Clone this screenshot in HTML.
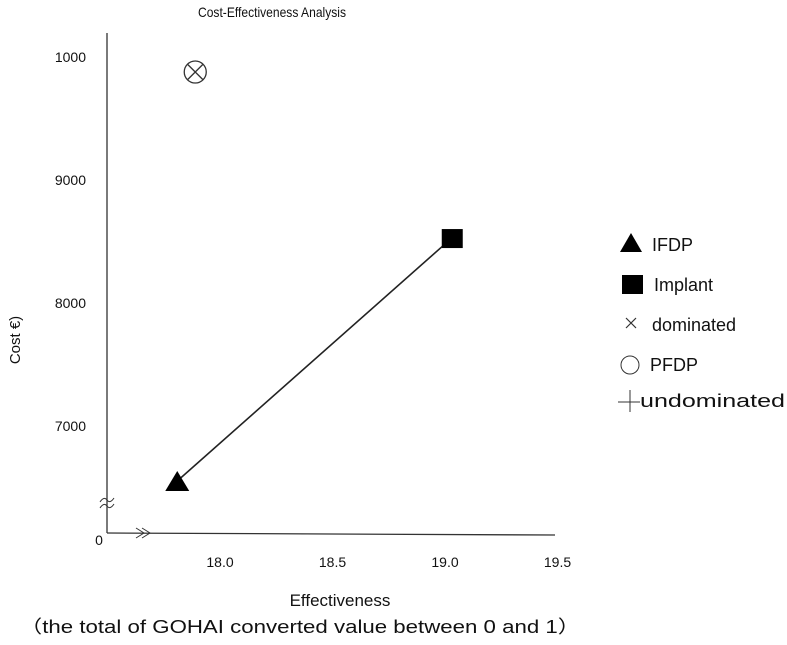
<!DOCTYPE html>
<html><head><meta charset="utf-8"><style>
body{margin:0;background:#fff;font-family:"Liberation Sans","Noto Sans CJK JP",sans-serif;}
svg text{font-family:"Liberation Sans","Noto Sans CJK JP",sans-serif;fill:#111;}
</style></head><body>
<svg width="787" height="640" viewBox="0 0 787 640">
<text x="272" y="17" font-size="14" text-anchor="middle" textLength="148" lengthAdjust="spacingAndGlyphs">Cost-Effectiveness Analysis</text>
<line x1="107" y1="33" x2="107" y2="533" stroke="#333" stroke-width="1.3"/>
<line x1="107" y1="533" x2="555" y2="535" stroke="#333" stroke-width="1.3"/>
<g id="yticks"></g>
<g id="xticks"></g>
<text x="99" y="545" font-size="14" text-anchor="middle">0</text>
<path d="M100,502 q4,-6 7,-2 q3,4 7,-2 M100,508 q4,-6 7,-2 q3,4 7,-2" stroke="#333" fill="none"/>
<path d="M136,528 l8,5 l-8,5 M142,528 l8,5 l-8,5" stroke="#333" fill="none"/>
<g id="marks"></g>
<text transform="translate(20,340) rotate(-90)" font-size="15" text-anchor="middle">Cost  €)</text>
<text x="340" y="606" font-size="17" text-anchor="middle">Effectiveness</text>
<text x="300" y="633" font-size="18" text-anchor="middle" textLength="560" lengthAdjust="spacingAndGlyphs">（the total of GOHAI converted value between 0 and 1）</text>
<g>
<polygon points="620,252 631,233 642,252" fill="#000"/>
<text x="652" y="251" font-size="18">IFDP</text>
<rect x="622" y="275" width="21" height="19" fill="#000"/>
<text x="654" y="291" font-size="18">Implant</text>
<path d="M626,318 l10,10 M636,318 l-10,10" stroke="#333" stroke-width="1.2"/>
<text x="652" y="331" font-size="18">dominated</text>
<circle cx="630" cy="365" r="9" fill="none" stroke="#333"/>
<text x="650" y="371" font-size="18">PFDP</text>
<path d="M618,402 h22 M630,390 v22" stroke="#333"/>
<text x="640" y="407" font-size="18" textLength="145" lengthAdjust="spacingAndGlyphs">undominated</text>
</g>
</svg>
<script>
const yTickValues=[10000,9000,8000,7000];
const yTickLabels=["1000","9000","8000","7000"];
const xTickValues=[18.0,18.5,19.0,19.5];
const xTickLabels=["18.0","18.5","19.0","19.5"];
const pointNames=["IFDP","Implant","PFDP"];
const effectiveness=[17.81,19.03,17.89];
const cost=[6553,8528,9878];
const NS="http://www.w3.org/2000/svg";
function ys(v){return 426-(v-7000)*0.123;}
function xs(v){return 220+(v-18)*225;}
const yt=document.getElementById('yticks'),xt=document.getElementById('xticks'),m=document.getElementById('marks');
function mk(tag,attrs,parent){const e=document.createElementNS(NS,tag);for(const k in attrs)e.setAttribute(k,attrs[k]);parent.appendChild(e);return e;}
yTickValues.forEach((v,i)=>{const t=mk('text',{x:86,y:ys(v)+5,'font-size':14,'text-anchor':'end'},yt);t.textContent=yTickLabels[i];

});
xTickValues.forEach((v,i)=>{const t=mk('text',{x:xs(v),y:567,'font-size':14,'text-anchor':'middle'},xt);t.textContent=xTickLabels[i];

});
const ln=mk('line',{x1:xs(effectiveness[0]),y1:ys(cost[0]),x2:xs(effectiveness[1]),y2:ys(cost[1]),stroke:'#222','stroke-width':1.6},m);


let x=xs(effectiveness[0]),y=ys(cost[0]);
const tri=mk('polygon',{points:`${x-12},${y+10} ${x},${y-10} ${x+12},${y+10}`,fill:'#000'},m);


x=xs(effectiveness[1]);y=ys(cost[1]);
const sq=mk('rect',{x:x-10,y:y-9,width:21,height:19,fill:'#000'},m);


x=xs(effectiveness[2]);y=ys(cost[2]);
const g=mk('g',{},m);


mk('circle',{cx:x,cy:y,r:11,fill:'none',stroke:'#333','stroke-width':1.3},g);
mk('path',{d:`M${x-7.5},${y-7.5}L${x+7.5},${y+7.5}M${x+7.5},${y-7.5}L${x-7.5},${y+7.5}`,stroke:'#333','stroke-width':1.3},g);
</script>
</body></html>
